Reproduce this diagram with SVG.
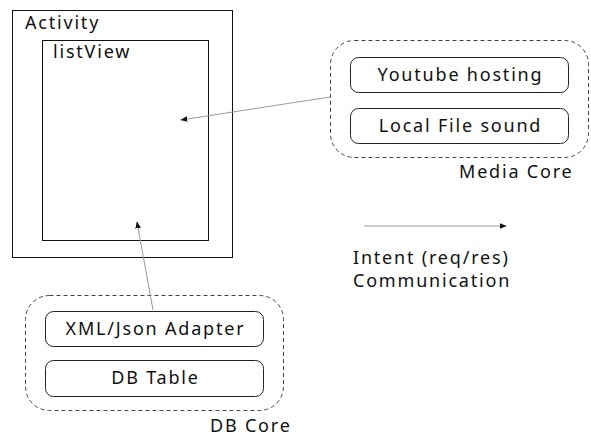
<svg xmlns="http://www.w3.org/2000/svg" width="591" height="437" viewBox="0 0 591 437">
  <style>
    .lbl { font-family: "Noto Sans", "Open Sans", sans-serif; font-size: 18px; letter-spacing: 1.8px; fill: #111; }
    .mid { text-anchor: middle; }
    .solid { fill: #fff; stroke: #111; stroke-width: 1; }
    .item { fill: #fff; stroke: #222; stroke-width: 1; }
    .group { fill: none; stroke: #444; stroke-width: 1; stroke-dasharray: 4 3; }
    .conn { stroke: #999; stroke-width: 1; fill: none; marker-end: url(#head); }
  </style>
  <defs>
    <marker id="head" viewBox="0 0 10 10" refX="9" refY="5" markerWidth="7" markerHeight="7" orient="auto" markerUnits="userSpaceOnUse">
      <path d="M0,1 L10,5 L0,9 Z" fill="#111"/>
    </marker>
  </defs>
  <rect width="591" height="437" fill="#fff"/>

  <g id="activity">
    <rect class="solid" x="12.5" y="10.5" width="220" height="247"/>
    <text class="lbl" x="25" y="29">Activity</text>
  </g>

  <g id="listView">
    <rect class="solid" x="42.5" y="40.5" width="166" height="200"/>
    <text class="lbl" x="53" y="58">listView</text>
  </g>

  <g id="mediaCore">
    <rect class="group" x="330.5" y="40.5" width="258" height="117" rx="24"/>
    <text class="lbl" x="459" y="178">Media Core</text>
  </g>
  <g id="youtube">
    <rect class="item" x="350.5" y="57.5" width="218" height="35" rx="8"/>
    <text class="lbl mid" x="460.5" y="81">Youtube hosting</text>
  </g>
  <g id="localFile">
    <rect class="item" x="350.5" y="108.5" width="218" height="35" rx="8"/>
    <text class="lbl mid" x="460.5" y="132">Local File sound</text>
  </g>

  <g id="dbCore">
    <rect class="group" x="25.5" y="295.5" width="258" height="115" rx="24"/>
    <text class="lbl" x="210" y="432">DB Core</text>
  </g>
  <g id="adapter">
    <rect class="item" x="45.5" y="311.5" width="218" height="35" rx="8"/>
    <text class="lbl mid" x="155.5" y="335">XML/Json Adapter</text>
  </g>
  <g id="dbTable">
    <rect class="item" x="45.5" y="360.5" width="218" height="36" rx="8"/>
    <text class="lbl mid" x="155.5" y="384">DB Table</text>
  </g>

  <g id="legend">
    <text class="lbl" x="353" y="264">Intent (req/res)</text>
    <text class="lbl" x="353" y="287">Communication</text>
  </g>

  <g id="connectors">
    <line class="conn" x1="330" y1="97" x2="181" y2="120"/>
    <line class="conn" x1="153" y1="310" x2="137" y2="222"/>
    <line class="conn" x1="364" y1="226" x2="506" y2="226"/>
  </g>
</svg>
